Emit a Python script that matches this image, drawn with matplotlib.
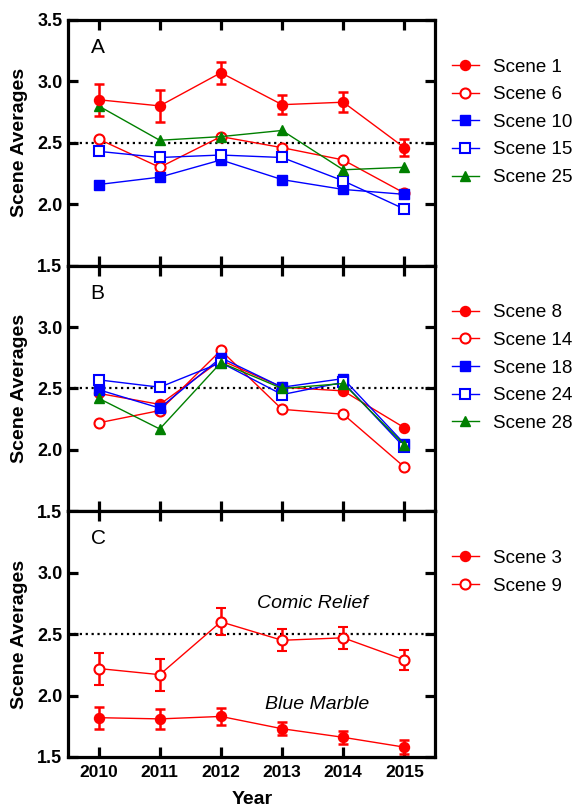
import matplotlib
matplotlib.use("Agg")
import matplotlib.pyplot as plt

plt.rcParams['font.family'] = ['Liberation Sans', 'DejaVu Sans']

years = [2010, 2011, 2012, 2013, 2014, 2015]

# panel A
a_names = ['Scene 1', 'Scene 6', 'Scene 10', 'Scene 15', 'Scene 25']
scene1 = [2.85, 2.80, 3.07, 2.81, 2.83, 2.46]
scene1_err = [0.13, 0.13, 0.09, 0.08, 0.08, 0.07]
scene6 = [2.53, 2.30, 2.55, 2.46, 2.36, 2.09]
scene10 = [2.16, 2.22, 2.36, 2.20, 2.12, 2.08]
scene15 = [2.43, 2.38, 2.40, 2.38, 2.19, 1.96]
scene25 = [2.80, 2.52, 2.55, 2.60, 2.28, 2.30]

# panel B
b_names = ['Scene 8', 'Scene 14', 'Scene 18', 'Scene 24', 'Scene 28']
scene8 = [2.46, 2.37, 2.73, 2.51, 2.48, 2.18]
scene14 = [2.22, 2.32, 2.81, 2.33, 2.29, 1.86]
scene18 = [2.49, 2.34, 2.75, 2.51, 2.58, 2.05]
scene24 = [2.57, 2.51, 2.71, 2.45, 2.55, 2.02]
scene28 = [2.42, 2.17, 2.71, 2.50, 2.54, 2.04]

# panel C
c_names = ['Scene 3', 'Scene 9']
scene3 = [1.82, 1.81, 1.83, 1.73, 1.66, 1.58]
scene3_err = [0.09, 0.08, 0.07, 0.055, 0.055, 0.055]
scene9 = [2.22, 2.17, 2.60, 2.45, 2.47, 2.29]
scene9_err = [0.13, 0.13, 0.11, 0.09, 0.09, 0.08]

RED = '#ff0000'
BLUE = '#0000ff'
GREEN = '#008000'

styles = {
    'red_fill': dict(color=RED, marker='o', mfc=RED, mec=RED, ms=7.2),
    'red_open': dict(color=RED, marker='o', mfc='white', mec=RED, ms=7.2, mew=1.5),
    'blue_fill': dict(color=BLUE, marker='s', mfc=BLUE, mec=BLUE, ms=6.7),
    'blue_open': dict(color=BLUE, marker='s', mfc='white', mec=BLUE, ms=6.7, mew=1.5),
    'green': dict(color=GREEN, marker='^', mfc=GREEN, mec=GREEN, ms=6.8),
}

fig = plt.figure(figsize=(5.81, 8.09), dpi=100)
left, width, h = 0.117, 0.6317, 0.3037
bottoms = [0.0643 + 2 * h, 0.0643 + h, 0.0643]
axes = [fig.add_axes([left, b, width, h]) for b in bottoms]


def draw(ax, y, st, err=None):
    # returns the plain line so the legend shows no error bars
    if err is None:
        line, = ax.plot(years, y, lw=1.0, **st)
        return line
    cont = ax.errorbar(years, y, yerr=err, lw=1.0, elinewidth=1.8,
                       capsize=3.8, capthick=1.8, **st)
    return cont[0]


axA, axB, axC = axes
hA = [draw(axA, scene1, styles['red_fill'], scene1_err),
      draw(axA, scene6, styles['red_open']),
      draw(axA, scene10, styles['blue_fill']),
      draw(axA, scene15, styles['blue_open']),
      draw(axA, scene25, styles['green'])]

hB = [draw(axB, scene8, styles['red_fill']),
      draw(axB, scene14, styles['red_open']),
      draw(axB, scene18, styles['blue_fill']),
      draw(axB, scene24, styles['blue_open']),
      draw(axB, scene28, styles['green'])]

hC = [draw(axC, scene3, styles['red_fill'], scene3_err),
      draw(axC, scene9, styles['red_open'], scene9_err)]

handles = [hA, hB, hC]
legend_names = [a_names, b_names, c_names]
letters = ['A', 'B', 'C']
for i, ax in enumerate(axes):
    ax.axhline(2.5, color='black', ls=':', lw=1.6, zorder=0)
    ax.set_xlim(2009.5, 2015.5)
    ax.set_ylim(1.5, 3.5)
    ax.set_xticks(years)
    if i == 0:
        ax.set_yticks([1.5, 2.0, 2.5, 3.0, 3.5])
    else:
        ax.set_yticks([1.5, 2.0, 2.5, 3.0])
    ax.set_yticklabels([f'{t:.1f}' for t in ax.get_yticks()])
    for s in ax.spines.values():
        s.set_linewidth(2.3)
    ax.tick_params(direction='in', length=7, width=2.3, top=True, right=True,
                   labelsize=13, pad=4)
    ax.tick_params(axis='x', pad=6, labelsize=12.5)
    for lab in ax.get_yticklabels() + ax.get_xticklabels():
        lab.set_fontweight('bold')
    if i < 2:
        ax.tick_params(axis='x', labelbottom=False)
    ax.text(2009.87, 0.888, letters[i], transform=ax.get_xaxis_transform(),
            fontsize=15, va='center', ha='left')
    ax.legend(handles[i], legend_names[i], loc='upper left',
              bbox_to_anchor=(1.046, 0.843), frameon=False, fontsize=13.5,
              handlelength=1.45, handletextpad=0.75, labelspacing=0.56,
              borderaxespad=0, borderpad=0)
    fig.text(19.5 / 581, bottoms[i] + h / 2, 'Scene Averages', rotation=90,
             ha='center', va='center', fontsize=14, fontweight='bold')

axC.text(2013.49, 2.746, 'Comic Relief', style='italic', fontsize=14,
         ha='center', va='center')
axC.text(2013.58, 1.927, 'Blue Marble', style='italic', fontsize=14,
         ha='center', va='center')

fig.text(252 / 581, 1 - 800 / 809, 'Year', ha='center', va='center',
         fontsize=14, fontweight='bold')

fig.savefig('out.png', dpi=100)
